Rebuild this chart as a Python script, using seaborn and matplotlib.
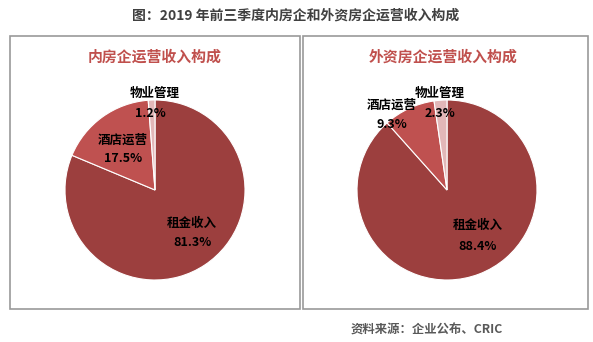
import matplotlib
matplotlib.use("Agg")
import matplotlib.pyplot as plt
import seaborn as sns
from matplotlib.patches import Rectangle

sns.set_theme(style="white")
plt.rcParams['font.family'] = ['Noto Sans CJK SC', 'DejaVu Sans']

# Data
categories = ["租金收入", "酒店运营", "物业管理"]
domestic_values = [81.3, 17.5, 1.2]
foreign_values = [88.4, 9.3, 2.3]
domestic_labels = ["81.3%", "17.5%", "1.2%"]
foreign_labels = ["88.4%", "9.3%", "2.3%"]
main_title = "图：2019 年前三季度内房企和外资房企运营收入构成"
sub_titles = ["内房企运营收入构成", "外资房企运营收入构成"]
source = "资料来源：企业公布、CRIC"

colors = ["#9C3F3E", "#BF5150", "#E2B7B8"]

W, H = 593, 342
fig = plt.figure(figsize=(W / 100, H / 100), dpi=100)
fig.patch.set_facecolor("white")

def fx(px):
    return px / W

def fy(py):
    return 1 - py / H

# Boxes
top, bottom = 35.5, 309
for x0, x1 in [(10, 300), (303, 588)]:
    fig.patches.append(Rectangle((fx(x0), fy(bottom)), fx(x1 - x0), (bottom - top) / H,
                                 transform=fig.transFigure, fill=False,
                                 edgecolor="#999999", linewidth=1.2))

fig.text(fx(296), fy(16), main_title, ha="center", va="center", fontsize=10,
         fontweight="bold", color="#404040")
fig.text(fx(427), fy(330), source, ha="center", va="center", fontsize=8.9,
         fontweight="bold", color="#595959")

centers = [(155, 190), (447, 190)]
R = 90
datasets = [domestic_values, foreign_values]
pct_sets = [domestic_labels, foreign_labels]
title_x = [155, 443]

# label positions (pixel): name, pct
label_pos = [
    [((192, 223), (192, 243)), ((123, 140), (123, 159)), ((155, 93), (150, 113))],
    [((478, 225), (478, 246)), ((392, 105), (392, 125)), ((440, 93), (440, 113))],
]

for i in range(2):
    cx, cy = centers[i]
    ax = fig.add_axes([fx(cx - R), fy(cy + R), fx(2 * R), 2 * R / H])
    ax.pie(datasets[i], colors=colors, startangle=90, counterclock=False,
           radius=1, wedgeprops=dict(edgecolor="white", linewidth=0.8))
    ax.set_xlim(-1, 1)
    ax.set_ylim(-1, 1)
    ax.set_aspect("equal")
    ax.axis("off")
    fig.text(fx(title_x[i]), fy(57), sub_titles[i], ha="center", va="center",
             fontsize=10.7, fontweight="bold", color="#C0504D")
    for j, cat in enumerate(categories):
        (nx, ny), (px, py) = label_pos[i][j]
        fig.text(fx(nx), fy(ny), cat, ha="center", va="center", fontsize=9,
                 fontweight="bold", color="black")
        fig.text(fx(px), fy(py), pct_sets[i][j], ha="center", va="center",
                 fontsize=9, fontweight="bold", color="black")

fig.savefig("out.png", dpi=100, facecolor="white")
